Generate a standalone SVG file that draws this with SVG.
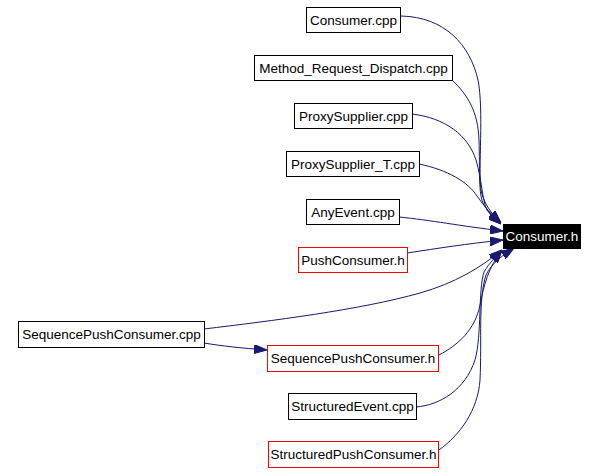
<svg xmlns="http://www.w3.org/2000/svg" width="598" height="472" viewBox="0 0 598 472">
<style>
.n rect{fill:#ffffff;stroke:#000000;stroke-width:1}
.n.red rect{stroke:#ff0000}
.n text{font-family:"Liberation Sans",Arial,sans-serif;font-size:13.5px;fill:#000000;text-anchor:middle}
#n_consumer_h rect{fill:#000000;stroke:#000000}
#n_consumer_h text{fill:#ffffff}
.e path{fill:none;stroke:#191970;stroke-width:1;marker-end:url(#arr)}
</style>
<defs>
<marker id="arr" viewBox="0 0 13 9" refX="13" refY="4.5" markerWidth="13" markerHeight="9" markerUnits="userSpaceOnUse" orient="auto">
<path d="M0,0 L13,4.5 L0,9 z" fill="#191970" stroke="#191970" stroke-width="1"/>
</marker>
</defs>
<rect width="598" height="472" fill="#ffffff"/>
<g id="edges" class="e">
<path d="M401,16 C445,17 470,45 478,80 C484,110 478,170 481,190 C484,204 491,213 501,223"/>
<path d="M452,80 C468,95 478,112 479,140 C480,170 478,195 484,205 C488,212 494,217 501,223"/>
<path d="M412,114 C445,118 468,135 476,160 C482,180 482,200 487,210 C491,216 495,219 501,224"/>
<path d="M419,164 C448,170 468,182 477,196 C484,206 492,215 501,224"/>
<path d="M399,217 C430,220 460,226 503,231"/>
<path d="M407,253 C440,248 465,244 503,240"/>
<path d="M204,329 C270,321 360,310 420,293 C455,283 480,268 502,250"/>
<path d="M204,343 C222,346 240,348 267,350"/>
<path d="M439,355 C458,345 475,330 480,305 C484,285 488,268 502,250"/>
<path d="M416,407 C440,405 465,390 475,360 C482,335 478,290 484,272 C490,262 495,258 502,250"/>
<path d="M439,450 C460,435 478,410 480,380 C482,340 478,300 486,275 C492,262 505,254 514,248"/>
</g>
<g id="n_consumer_cpp" class="n"><rect x="306.5" y="7.5" width="94" height="25"/><text x="353.5" y="24.5">Consumer.cpp</text></g>
<g id="n_mrd_cpp" class="n"><rect x="254.5" y="55.5" width="198" height="25"/><text x="353.5" y="72.5">Method_Request_Dispatch.cpp</text></g>
<g id="n_proxysupplier_cpp" class="n"><rect x="294.5" y="103.5" width="118" height="25"/><text x="353.5" y="120.5">ProxySupplier.cpp</text></g>
<g id="n_proxysupplier_t_cpp" class="n"><rect x="286.5" y="151.5" width="133" height="25"/><text x="353" y="168.5">ProxySupplier_T.cpp</text></g>
<g id="n_anyevent_cpp" class="n"><rect x="306.5" y="199.5" width="93" height="25"/><text x="353" y="216.5">AnyEvent.cpp</text></g>
<g id="n_pushconsumer_h" class="n red"><rect x="298.5" y="247.5" width="109" height="25"/><text x="353" y="264.5">PushConsumer.h</text></g>
<g id="n_consumer_h" class="n"><rect x="503.5" y="224.5" width="77" height="24"/><text x="542" y="241">Consumer.h</text></g>
<g id="n_seqpushconsumer_cpp" class="n"><rect x="18.5" y="321.5" width="186" height="26"/><text x="111.5" y="339">SequencePushConsumer.cpp</text></g>
<g id="n_seqpushconsumer_h" class="n red"><rect x="267.5" y="345.5" width="171" height="26"/><text x="353" y="363">SequencePushConsumer.h</text></g>
<g id="n_structuredevent_cpp" class="n"><rect x="288.5" y="393.5" width="128" height="26"/><text x="352.5" y="411">StructuredEvent.cpp</text></g>
<g id="n_structuredpushconsumer_h" class="n red"><rect x="268.5" y="441.5" width="170" height="26"/><text x="353.5" y="459">StructuredPushConsumer.h</text></g>
</svg>
